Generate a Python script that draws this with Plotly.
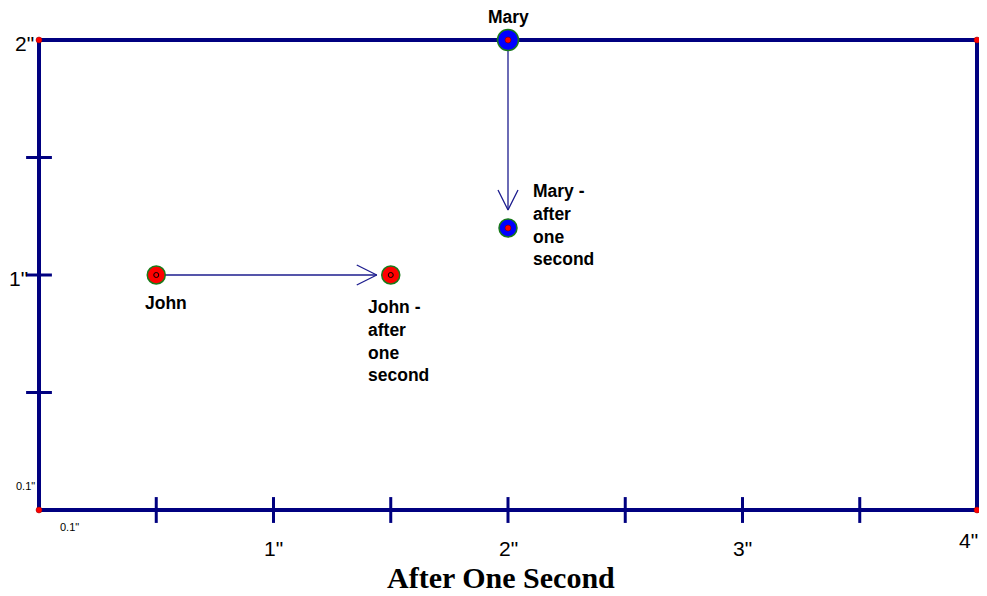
import plotly.graph_objects as go
import numpy as np

# ---- data ----
box_w, box_h = 4, 2
x_ticks = [0.5, 1, 1.5, 2, 2.5, 3, 3.5]
y_ticks = [0.5, 1, 1.5]
x_tick_labels = {1: '1"', 2: '2"', 3: '3"', 4: '4"'}
y_tick_labels = {2: '2"', 1: '1"'}
corners_x = [0, 4, 0, 4]
corners_y = [0, 0, 2, 2]

john_start = (0.5, 1.0)
john_end = (1.5, 1.0)
mary_start = (2.0, 2.0)
mary_end = (2.0, 1.2)

NAVY = "#000080"
ARROW = "#1c1c8e"

# ---- layout geometry (page pixels; page body has an 8px offset) ----
OFF = 8
W, H = 987 - OFF, 596 - OFF
SX, SY = 234.5, 235.0          # px per unit
X0_PX, Y0_PX = 39, 510         # page pixel of data origin
PL, PR, PT, PB = 15, 985, 20, 540  # page pixel extents of plot area
x_range = [(PL - X0_PX) / SX, (PR - X0_PX) / SX]
y_range = [(Y0_PX - PB) / SY, (Y0_PX - PT) / SY]
margin = dict(l=PL - OFF, r=W - (PR - OFF), t=PT - OFF, b=H - (PB - OFF), pad=0)

fig = go.Figure()

shapes = []
shapes.append(dict(type="rect", x0=0, y0=0, x1=box_w, y1=box_h,
                   line=dict(color=NAVY, width=4), layer="below"))
for t in x_ticks:
    shapes.append(dict(type="line", x0=t, x1=t, y0=-0.055, y1=0.055,
                       line=dict(color=NAVY, width=3)))
for t in y_ticks:
    shapes.append(dict(type="line", y0=t, y1=t, x0=-0.055, x1=0.055,
                       line=dict(color=NAVY, width=3)))


def arrow(p0, p1, gap_px, head_len_px, head_half_px):
    dx = (p1[0] - p0[0]) * SX
    dy = (p1[1] - p0[1]) * SY
    L = np.hypot(dx, dy)
    ux, uy = dx / L, dy / L
    ex = p1[0] * SX - ux * gap_px
    ey = p1[1] * SY - uy * gap_px
    bx = ex - ux * head_len_px
    by = ey - uy * head_len_px
    nx, ny = -uy, ux
    w1 = (bx + nx * head_half_px, by + ny * head_half_px)
    w2 = (bx - nx * head_half_px, by - ny * head_half_px)
    xs = [p0[0], ex / SX, None, w1[0] / SX, ex / SX, w2[0] / SX]
    ys = [p0[1], ey / SY, None, w1[1] / SY, ey / SY, w2[1] / SY]
    return xs, ys


for p0, p1, gap in [(john_start, john_end, 14), (mary_start, mary_end, 18)]:
    xs, ys = arrow(p0, p1, gap, 20, 10)
    fig.add_trace(go.Scatter(x=xs, y=ys, mode="lines",
                             line=dict(color=ARROW, width=1.3),
                             hoverinfo="skip", showlegend=False, cliponaxis=False))

fig.add_trace(go.Scatter(x=corners_x, y=corners_y, mode="markers",
                         marker=dict(color="red", size=6, opacity=1,
                                     line=dict(color="#8b0000", width=0.5)),
                         showlegend=False, cliponaxis=False))

fig.add_trace(go.Scatter(x=[john_start[0], john_end[0]], y=[john_start[1], john_end[1]],
                         mode="markers",
                         marker=dict(color="#ff0000", size=18, opacity=1,
                                     line=dict(color="#1a7a1a", width=1.5)),
                         showlegend=False, cliponaxis=False))
fig.add_trace(go.Scatter(x=[john_start[0], john_end[0]], y=[john_start[1], john_end[1]],
                         mode="markers",
                         marker=dict(symbol="circle-open", color="black", size=5, line=dict(width=1)),
                         showlegend=False, cliponaxis=False))
fig.add_trace(go.Scatter(x=[mary_start[0], mary_end[0]], y=[mary_start[1], mary_end[1]],
                         mode="markers",
                         marker=dict(color="#0000ff", size=[21, 18], opacity=1,
                                     line=dict(color="#1a7a1a", width=1.5)),
                         showlegend=False, cliponaxis=False))
fig.add_trace(go.Scatter(x=[mary_start[0], mary_end[0]], y=[mary_start[1], mary_end[1]],
                         mode="markers",
                         marker=dict(color="red", size=6, opacity=1,
                                     line=dict(color="#550000", width=0.5)),
                         showlegend=False, cliponaxis=False))

ann = []
lbl_font = dict(family="Liberation Sans, Arial, sans-serif", size=17.5, color="black")
ann.append(dict(x=mary_start[0], y=mary_start[1], text="<b>Mary</b>", showarrow=False,
                yshift=23, font=lbl_font, xanchor="center", yanchor="middle"))
ann.append(dict(x=john_start[0], y=john_start[1], text="<b>John</b>", showarrow=False,
                yshift=-28, xshift=10, font=lbl_font, xanchor="center", yanchor="middle"))
ann.append(dict(x=john_end[0], y=john_end[1], text="<b>John -<br>after<br>one<br>second</b>",
                showarrow=False, xshift=-25, yshift=-20, font=lbl_font,
                xanchor="left", yanchor="top", align="left"))
ann.append(dict(x=mary_end[0], y=mary_end[1], text="<b>Mary -<br>after<br>one<br>second</b>",
                showarrow=False, xshift=23, yshift=49, font=lbl_font,
                xanchor="left", yanchor="top", align="left"))

num_font = dict(family="Liberation Sans, Arial, sans-serif", size=21, color="black")
for v, t in x_tick_labels.items():
    last = v == max(x_tick_labels)
    ann.append(dict(x=v, y=0, text=t, showarrow=False, font=num_font,
                    xanchor="center", yanchor="middle",
                    yshift=-30 if last else -38, xshift=-9 if last else 0))
for v, t in y_tick_labels.items():
    ann.append(dict(x=0, y=v, text=t, showarrow=False, font=num_font,
                    xanchor="right", yanchor="middle",
                    xshift=-3 if v == 2 else -9, yshift=-3))
small_font = dict(family="Liberation Sans, Arial, sans-serif", size=11, color="black")
ann.append(dict(x=0, y=0, text='0.1"', showarrow=False, font=small_font,
                xanchor="center", yanchor="middle", xshift=-14, yshift=24))
ann.append(dict(x=0, y=0, text='0.1"', showarrow=False, font=small_font,
                xanchor="center", yanchor="middle", xshift=30, yshift=-17))
ann.append(dict(x=2, y=0, text="<b>After One Second</b>", showarrow=False,
                font=dict(family="Liberation Serif, Times New Roman, serif", size=30, color="black"),
                xanchor="center", yanchor="middle", yshift=-67, xshift=-7))

fig.update_layout(
    width=W, height=H,
    margin=margin,
    paper_bgcolor="white", plot_bgcolor="white",
    xaxis=dict(range=x_range, visible=False, fixedrange=True),
    yaxis=dict(range=y_range, visible=False, fixedrange=True),
    shapes=shapes, annotations=ann, showlegend=False,
)

fig.write_html("out.html")
